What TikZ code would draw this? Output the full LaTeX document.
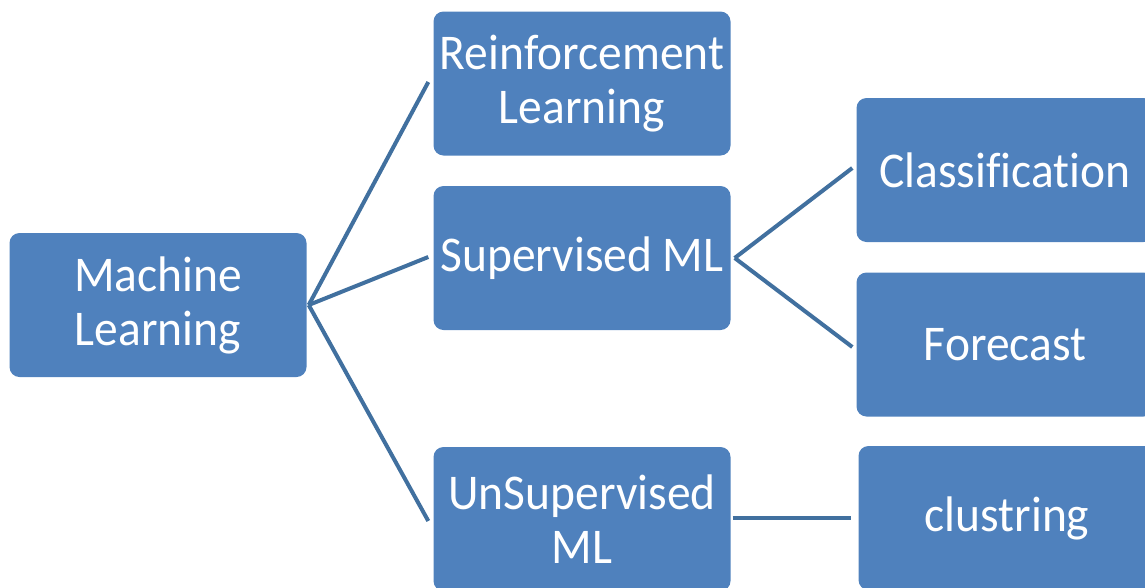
\documentclass[tikz,border=0pt]{standalone}
\usepackage{fontspec}
\setmainfont[FakeStretch=0.95,Ligatures=NoCommon]{Carlito}
\begin{document}
\begin{tikzpicture}[x=1pt,y=-1pt,
  box/.style={fill=boxblue, rounded corners=10pt, text=white, align=center,
    minimum width=297pt, minimum height=144pt, inner sep=0pt,
    font=\fontsize{50}{54}\selectfont},
  link/.style={draw=lineblue, line width=4pt}]
\definecolor{boxblue}{HTML}{4F81BD}
\definecolor{lineblue}{HTML}{41709F}
\useasboundingbox (0,0) rectangle (1145,587);
\clip (0,0) rectangle (1145,587);
\node[box] (ml) at (158,305) {Machine\\Learning};
\node[box] (rl) at (582,83.5) {Reinforcement\\Learning};
\node[box] (sl) at (582,258) {Supervised ML};
\node[box] (ul) at (582,519) {UnSupervised\\ML};
\node[box] (cl) at (1005,170) {Classification};
\node[box] (fc) at (1005,344.5) {Forecast};
\node[box] (cu) at (1007,518) {clustring};
\coordinate (mlv) at ([xshift=2pt]ml.east);
\coordinate (slv) at ([xshift=4pt]sl.east);
\draw[link] (mlv) -- ([xshift=-5pt,yshift=1.5pt]rl.west);
\draw[link] (mlv) -- ([xshift=-5pt,yshift=1pt]sl.west);
\draw[link] (mlv) -- ([xshift=-5pt,yshift=-2pt]ul.west);
\draw[link] (slv) -- ([xshift=-4pt,yshift=2pt]cl.west);
\draw[link] (slv) -- ([xshift=-4pt,yshift=-2.5pt]fc.west);
\draw[link] ([xshift=2pt,yshift=1pt]ul.east) -- ([xshift=-7pt]cu.west);
\end{tikzpicture}
\end{document}
